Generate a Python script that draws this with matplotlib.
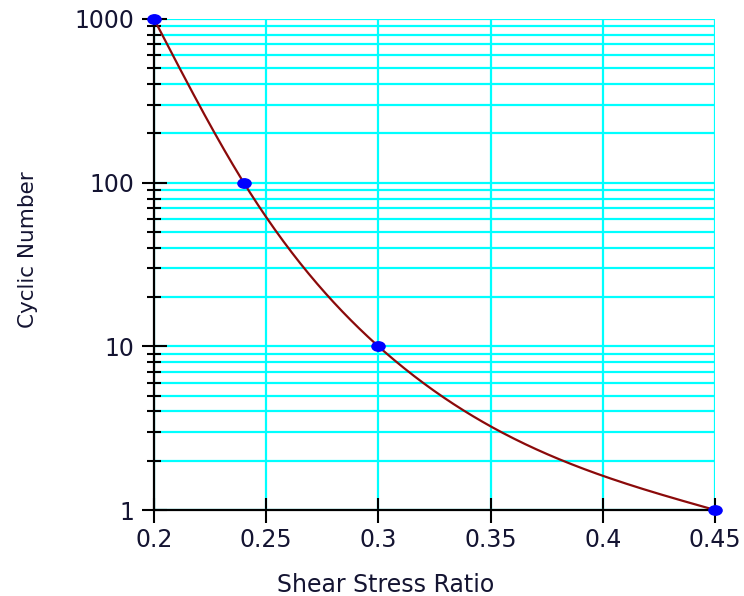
import numpy as np
import matplotlib
matplotlib.use("Agg")
import matplotlib.pyplot as plt
from matplotlib.path import Path
from matplotlib.transforms import Affine2D

# ---- data ----
ratio = [0.2, 0.24, 0.3, 0.45]
cycles = [1000, 100, 10, 1]
xtick_vals = [0.2, 0.25, 0.3, 0.35, 0.4, 0.45]
xtick_labels = ["0.2", "0.25", "0.3", "0.35", "0.4", "0.45"]
ytick_vals = [1, 10, 100, 1000]
ytick_labels = ["1", "10", "100", "1000"]
x_label = "Shear Stress Ratio"
y_label = "Cyclic Number"


def natural_spline(xs, ys, xq):
    xs = np.asarray(xs, float)
    ys = np.asarray(ys, float)
    n = len(xs)
    h = np.diff(xs)
    A = np.zeros((n, n))
    b = np.zeros(n)
    A[0, 0] = 1.0
    A[-1, -1] = 1.0
    for i in range(1, n - 1):
        A[i, i - 1] = h[i - 1]
        A[i, i] = 2 * (h[i - 1] + h[i])
        A[i, i + 1] = h[i]
        b[i] = 6 * ((ys[i + 1] - ys[i]) / h[i] - (ys[i] - ys[i - 1]) / h[i - 1])
    M = np.linalg.solve(A, b)
    out = np.empty_like(xq)
    for k, x in enumerate(xq):
        i = min(max(np.searchsorted(xs, x) - 1, 0), n - 2)
        a = x - xs[i]
        bb = xs[i + 1] - x
        hi = h[i]
        out[k] = (M[i] * bb ** 3 / (6 * hi) + M[i + 1] * a ** 3 / (6 * hi)
                  + (ys[i] - M[i] * hi ** 2 / 6) * bb / hi
                  + (ys[i + 1] - M[i + 1] * hi ** 2 / 6) * a / hi)
    return out


W, H = 744, 596
fig = plt.figure(figsize=(W / 100, H / 100), dpi=100)
ax = fig.add_axes([154 / W, 1 - 510 / H, 561 / W, 491 / H])

text_color = "#141432"
tick_font = {"family": "DejaVu Sans", "size": 17}

ax.set_yscale("log")
ax.set_xlim(ratio[0], ratio[-1])
ax.set_ylim(min(cycles), max(cycles))

ax.set_xticks(xtick_vals)
ax.set_xticklabels(xtick_labels, fontdict=tick_font, color=text_color)
ax.set_yticks(ytick_vals)
ax.set_yticklabels(ytick_labels, fontdict=tick_font, color=text_color)
ax.yaxis.set_minor_locator(matplotlib.ticker.LogLocator(base=10, subs=np.arange(2, 10)))
ax.yaxis.set_minor_formatter(matplotlib.ticker.NullFormatter())
ax.xaxis.set_minor_locator(matplotlib.ticker.NullLocator())
ax.grid(True, which="both", color="#00ffff", linewidth=1.6, zorder=0)
ax.set_axisbelow(True)

ax.tick_params(axis="both", which="major", direction="inout", length=18,
               width=1.5, color="black")
ax.tick_params(axis="y", which="major", pad=5)
ax.tick_params(axis="x", which="major", pad=4)
ax.tick_params(axis="y", which="minor", direction="inout", length=10,
               width=1.5, color="black")

for s in ["top", "right"]:
    ax.spines[s].set_visible(False)
for s in ["left", "bottom"]:
    ax.spines[s].set_linewidth(1.6)
    ax.spines[s].set_color("black")
    ax.spines[s].set_zorder(3)

# curve (natural cubic spline in log space through the data points)
xq = np.linspace(ratio[0], ratio[-1], 400)
yq = 10 ** natural_spline(ratio, np.log10(cycles), xq)
ax.plot(xq, yq, color="#8b0a0a", linewidth=1.6, zorder=4, clip_on=False)

ell = Path.unit_circle().transformed(Affine2D().scale(1.4, 1.0))
ax.plot(ratio, cycles, linestyle="none", marker=ell, markersize=9.5,
        color="#0000ff", zorder=5, clip_on=False)

fig.text(386 / W, 1 - 592 / H, x_label, ha="center", va="baseline",
         fontsize=17, family="DejaVu Sans", color=text_color)
fig.text(28 / W, 1 - 250 / H, y_label, ha="center", va="center", rotation=90,
         fontsize=15.5, family="DejaVu Sans", color=text_color)

fig.savefig("out.png", dpi=100)
